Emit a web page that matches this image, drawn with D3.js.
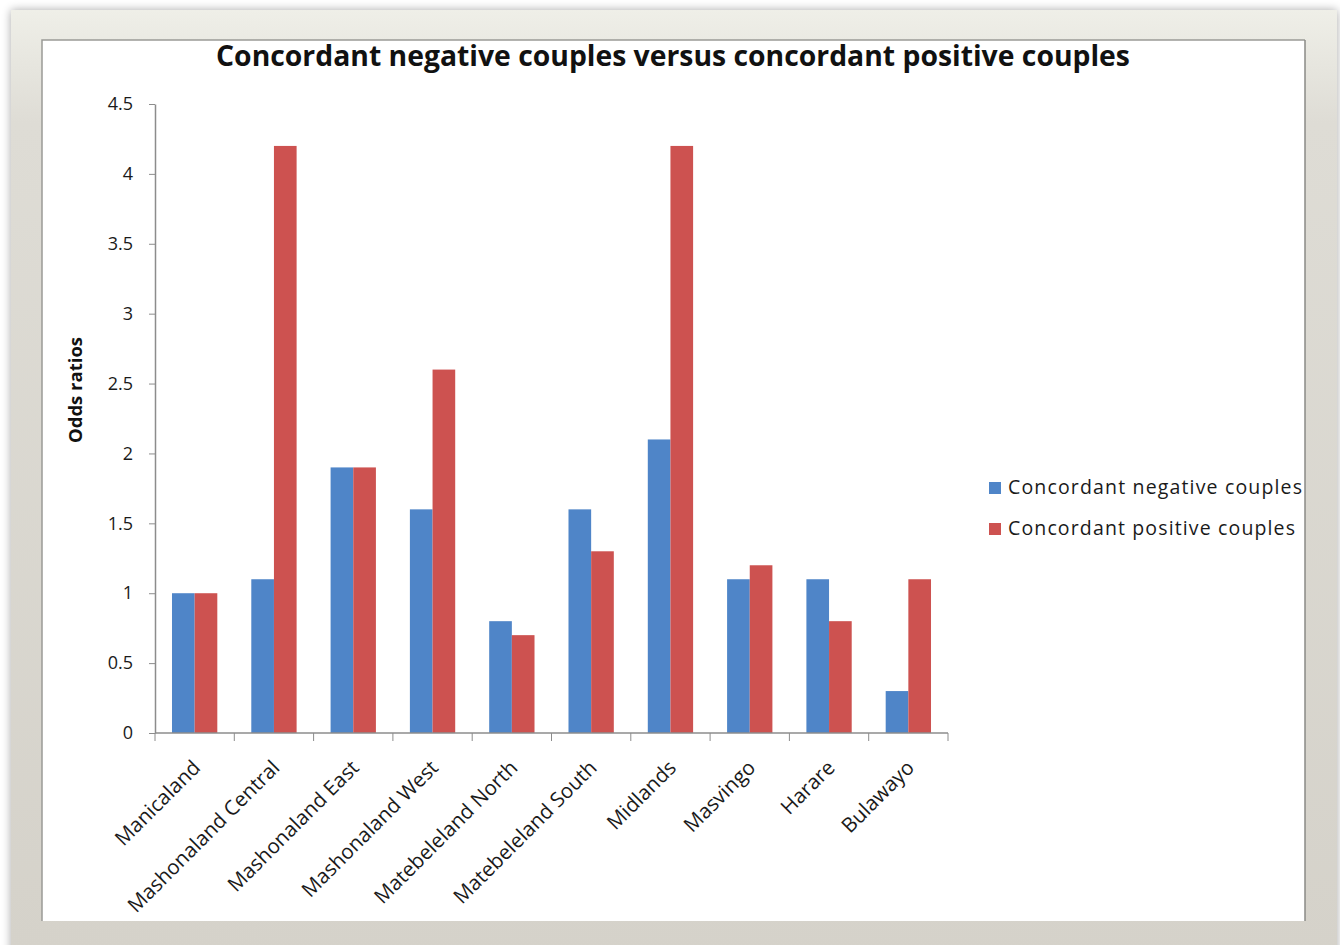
<!DOCTYPE html>
<html><head><meta charset="utf-8">
<script src="https://cdn.jsdelivr.net/npm/d3@7"></script>
<style>body{margin:0;background:#fff;}svg{display:block;}</style>
</head><body>
<svg id="c" width="1340" height="945"></svg>
<script>
const categories = ["Manicaland","Mashonaland Central","Mashonaland East","Mashonaland West","Matebeleland North","Matebeleland South","Midlands","Masvingo","Harare","Bulawayo"];
const seriesNames = ["Concordant negative couples","Concordant positive couples"];
const negativeValues = [1.0,1.1,1.9,1.6,0.8,1.6,2.1,1.1,1.1,0.3];
const positiveValues = [1.0,4.2,1.9,2.6,0.7,1.3,4.2,1.2,0.8,1.1];
const yTicks = [0,0.5,1,1.5,2,2.5,3,3.5,4,4.5];
const yTickLabels = ["0","0.5","1","1.5","2","2.5","3","3.5","4","4.5"];
const title = "Concordant negative couples versus concordant positive couples";
const yTitle = "Odds ratios";

const colors = ["#4f85c8","#cd5250"];
const svg = d3.select("#c");
const defs = svg.append("defs");
const g1 = defs.append("linearGradient").attr("id","fr").attr("x1",0).attr("y1",0).attr("x2",0).attr("y2",1);
g1.append("stop").attr("offset","0%").attr("stop-color","#efefe8");
g1.append("stop").attr("offset","12%").attr("stop-color","#dedcd5");
g1.append("stop").attr("offset","100%").attr("stop-color","#d5d2ca");
const f = defs.append("filter").attr("id","sh").attr("x","-5%").attr("y","-5%").attr("width","110%").attr("height","110%");
f.append("feGaussianBlur").attr("in","SourceAlpha").attr("stdDeviation",5);
f.append("feOffset").attr("dx",0).attr("dy",0).attr("result","b");
f.append("feComponentTransfer").append("feFuncA").attr("type","linear").attr("slope",0.35);
const fm = f.append("feMerge"); fm.append("feMergeNode"); fm.append("feMergeNode").attr("in","SourceGraphic");

// frame
svg.append("rect").attr("x",11).attr("y",10).attr("width",1326).attr("height",945).attr("fill","url(#fr)").attr("filter","url(#sh)");
svg.append("rect").attr("x",42).attr("y",40).attr("width",1263).attr("height",881).attr("fill","#fff");
svg.append("path").attr("d","M42,921 L42,40 L1305,40").attr("fill","none").attr("stroke","#9a9a96").attr("stroke-width",1.5);
svg.append("path").attr("d","M1305,40 L1305,921").attr("fill","none").attr("stroke","#8a8a86").attr("stroke-width",1.5);

const x0 = d3.scaleBand().domain(categories).range([155,948]).paddingInner(0).paddingOuter(0);
const y = d3.scaleLinear().domain([0,4.5]).range([733,104]);
const bw = x0.bandwidth()/3.5;

const data = categories.map((c,i)=>({c, v:[negativeValues[i],positiveValues[i]]}));
const grp = svg.append("g").selectAll("g").data(data).join("g")
  .attr("transform",d=>`translate(${x0(d.c)+x0.bandwidth()/2 - bw},0)`);
grp.selectAll("rect").data(d=>d.v).join("rect")
  .attr("x",(d,i)=>i*bw).attr("width",bw)
  .attr("y",d=>y(d)).attr("height",d=>y(0)-y(d))
  .attr("fill",(d,i)=>colors[i]);

// y axis
const ya = svg.append("g").attr("transform","translate(155,0)")
  .call(d3.axisLeft(y).tickValues(yTicks).tickFormat((d,i)=>yTickLabels[i]).tickSize(6).tickSizeOuter(0).tickPadding(16));
ya.select(".domain").attr("stroke","#8c8c8c").attr("stroke-width",1.5);
ya.selectAll(".tick line").attr("stroke","#8c8c8c");
ya.selectAll("text").attr("font-family","'Open Sans', sans-serif").attr("font-size",18).attr("fill","#1a1a1a");

// x axis
const xa = svg.append("g").attr("transform","translate(0,733)");
xa.append("line").attr("x1",155).attr("x2",948).attr("y1",0).attr("y2",0).attr("stroke","#8c8c8c").attr("stroke-width",1.5);
const bounds = categories.map(c=>x0(c)).concat([x0(categories[categories.length-1])+x0.bandwidth()]);
xa.selectAll("line.t").data(bounds).join("line").attr("class","t")
  .attr("x1",d=>d).attr("x2",d=>d).attr("y1",0).attr("y2",8).attr("stroke","#8c8c8c");
xa.selectAll("text").data(categories).join("text")
  .attr("transform",d=>`translate(${x0(d)+x0.bandwidth()/2+7},${36}) rotate(-45)`)
  .attr("text-anchor","end").attr("font-family","'Open Sans', sans-serif").attr("font-size",20.5).attr("fill","#1a1a1a")
  .text(d=>d);

// title
const t = svg.append("text").attr("x",673).attr("y",66).attr("text-anchor","middle")
  .attr("font-family","'Open Sans', sans-serif").attr("font-weight","bold").attr("font-size",24).attr("fill","#111").text(title);
const tw = t.node().getComputedTextLength();
t.attr("font-size",24*914/tw);

// y title
svg.append("text").attr("transform","translate(82,390) rotate(-90)").attr("text-anchor","middle")
  .attr("font-family","'Open Sans', sans-serif").attr("font-weight","bold").attr("font-size",18.5).attr("fill","#111").text(yTitle);

// legend
const legendWidths = [294, 287];
const lg = svg.append("g").selectAll("g").data(seriesNames).join("g")
  .attr("transform",(d,i)=>`translate(989,${482+i*41})`);
lg.append("rect").attr("width",12).attr("height",12).attr("fill",(d,i)=>colors[i]);
lg.append("text").attr("x",19).attr("y",12).attr("font-family","'Open Sans', sans-serif").attr("font-size",19.5).attr("fill","#1a1a1a")
  .attr("textLength",(d,i)=>legendWidths[i]).attr("lengthAdjust","spacing").text(d=>d);
</script>
</body></html>
